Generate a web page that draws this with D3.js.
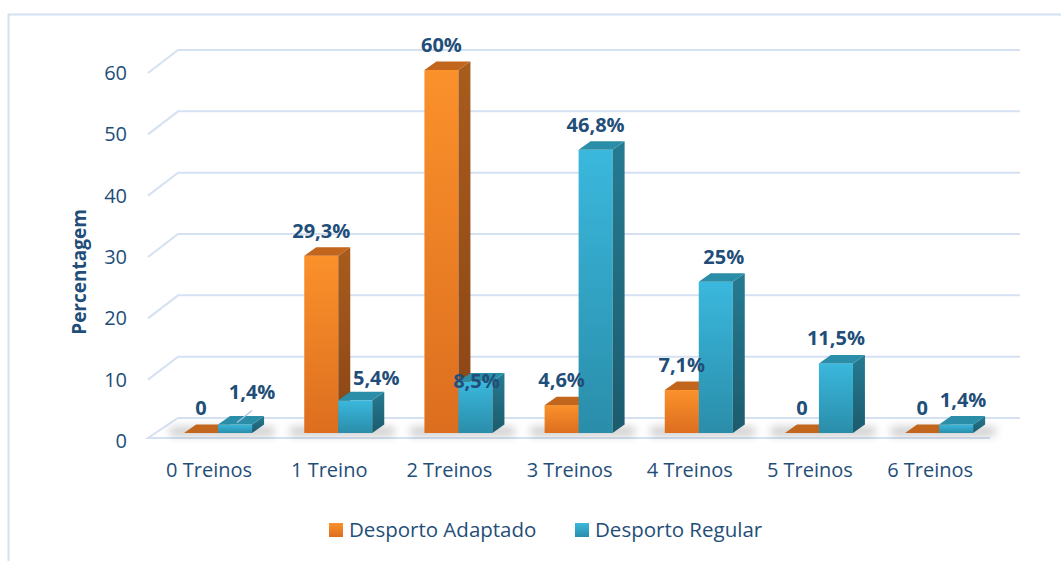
<!DOCTYPE html>
<html>
<head>
<meta charset="utf-8">
<title>Treinos</title>
<style>
  body { margin: 0; background: #fff; }
  svg { display: block; }
  text { font-family: "Open Sans", sans-serif; fill: #1f4e79; }
</style>
</head>
<body>
<script src="https://cdn.jsdelivr.net/npm/d3@7"></script>
<script>
// data
var categories = ["0 Treinos", "1 Treino", "2 Treinos", "3 Treinos", "4 Treinos", "5 Treinos", "6 Treinos"];
var seriesNames = ["Desporto Adaptado", "Desporto Regular"];
var adaptado = [0, 29.3, 60, 4.6, 7.1, 0, 0];
var regular = [1.4, 5.4, 8.5, 46.8, 25, 11.5, 1.4];
var yTicks = [0, 10, 20, 30, 40, 50, 60];

var width = 1061, height = 561;
var svg = d3.select('body').append('svg')
    .attr('width', width)
    .attr('height', height);

var defs = svg.append('defs');

function grad(id, top, bottom) {
    var g = defs.append('linearGradient').attr('id', id)
        .attr('x1', 0).attr('y1', 0).attr('x2', 0).attr('y2', 1);
    g.append('stop').attr('offset', '0%').attr('stop-color', top);
    g.append('stop').attr('offset', '100%').attr('stop-color', bottom);
}
grad('orFront', '#fb912b', '#dc6e1f');
grad('orSide', '#a85c1d', '#8a4515');
grad('cyFront', '#3ab8dd', '#2a8daa');
grad('cySide', '#257b92', '#1c5b6d');

defs.append('filter').attr('id', 'blur')
    .attr('x', '-50%').attr('y', '-200%').attr('width', '200%').attr('height', '500%')
    .append('feGaussianBlur').attr('stdDeviation', 4);

var colors = [
    { front: 'url(#orFront)', side: 'url(#orSide)', top: '#c2661d' },
    { front: 'url(#cyFront)', side: 'url(#cySide)', top: '#2b8ea8' }
];

// outer chart border
svg.append('path')
    .attr('d', 'M8.5,600 V14.5 H1100')
    .attr('fill', 'none')
    .attr('stroke', '#d3e0f0')
    .attr('stroke-width', 2);

// scales
var x = d3.scaleBand().domain(categories).range([158, 158 + 7 * 120.17]);
var yWall = d3.scaleLinear().domain([0, 60]).range([418, 50]);
var yBar = d3.scaleLinear().domain([0, 60]).range([433, 70]);

var depthX = 30, depthY = 23;   // wall depth
var bx = 12, by = 8.5;          // bar depth
var barW = 34;

// gridlines on back wall with left stubs
var grid = svg.append('g');
yTicks.forEach(function(t) {
    if (t === 0) return;
    grid.append('path')
        .attr('d', 'M148,' + (yWall(t) + depthY) + ' L178,' + yWall(t) + ' H1020')
        .attr('fill', 'none')
        .attr('stroke', '#d5e1f2')
        .attr('stroke-width', 2);
});

// floor
svg.append('path')
    .attr('d', 'M990,' + (yWall(0) + 20) + ' H148 L178,' + yWall(0) + ' H1020')
    .attr('fill', 'none')
    .attr('stroke', '#d5e1f2')
    .attr('stroke-width', 2);

// y tick labels
svg.append('g').selectAll('text').data(yTicks).enter().append('text')
    .attr('x', 127)
    .attr('y', function(d) { return yWall(d) + depthY; })
    .attr('dy', '0.35em')
    .attr('text-anchor', 'end')
    .style('font-size', '20px')
    .text(function(d) { return d; });

// axis title
svg.append('text')
    .attr('transform', 'translate(86,272) rotate(-90)')
    .attr('text-anchor', 'middle')
    .style('font-size', '19px')
    .style('font-weight', 'bold')
    .text('Percentagem');

// x labels
svg.append('g').selectAll('text').data(categories).enter().append('text')
    .attr('x', function(d) { return x(d) + x.bandwidth() / 2 - 9; })
    .attr('y', 477)
    .attr('text-anchor', 'middle')
    .style('font-size', '20px')
    .text(function(d) { return d; });

// shadows
svg.append('g').selectAll('rect').data(categories).enter().append('rect')
    .attr('x', function(d) { return x(d) + x.bandwidth() / 2 - barW - 14; })
    .attr('y', 427)
    .attr('width', barW * 2 + 36)
    .attr('height', 9)
    .attr('fill', '#555')
    .attr('opacity', 0.3)
    .attr('filter', 'url(#blur)');

// bars
var bars = svg.append('g');
var labels = [];
categories.forEach(function(c, i) {
    [adaptado[i], regular[i]].forEach(function(v, s) {
        var x0 = x(c) + x.bandwidth() / 2 - barW + s * barW;
        var yT = yBar(v), yB = yBar(0);
        var col = colors[s];
        if (v > 0) {
            bars.append('rect')
                .attr('x', x0).attr('y', yT)
                .attr('width', barW).attr('height', yB - yT)
                .attr('fill', col.front);
            bars.append('path')
                .attr('d', 'M' + (x0 + barW) + ',' + yT + ' l' + bx + ',' + (-by) +
                    ' V' + (yB - by) + ' l' + (-bx) + ',' + by + 'Z')
                .attr('fill', col.side);
        }
        bars.append('path')
            .attr('d', 'M' + x0 + ',' + yT + ' l' + bx + ',' + (-by) +
                ' h' + barW + ' l' + (-bx) + ',' + by + 'Z')
            .attr('fill', col.top);
        labels.push({ s: s, i: i, v: v, cx: x0 + barW / 2, top: yT });
    });
});

// label nudges where the original chart moved labels
var nudge = { '1-0': [17, -8], '1-1': [21, 3], '1-2': [1, 24], '1-4': [8, 0], '1-6': [7, 0] };

function fmt(v) {
    return v === 0 ? '0' : String(v).replace('.', ',') + '%';
}

var lab = svg.append('g');
labels.forEach(function(d) {
    var n = nudge[d.s + '-' + d.i] || [0, 0];
    var lx = d.cx + n[0], ly = d.top - 18 + n[1];
    if (d.s === 1 && d.i === 0) {
        lab.append('line')
            .attr('x1', d.cx + 2).attr('y1', d.top - 2)
            .attr('x2', lx).attr('y2', ly + 12)
            .attr('stroke', '#a9c4e3').attr('stroke-width', 1.2);
    }
    lab.append('text')
        .attr('x', lx)
        .attr('y', ly)
        .attr('text-anchor', 'middle')
        .style('font-size', '20px')
        .style('font-weight', 'bold')
        .text(fmt(d.v));
});

// legend
var legend = svg.append('g');
var legX = [329, 575];
seriesNames.forEach(function(name, s) {
    legend.append('rect')
        .attr('x', legX[s]).attr('y', 523)
        .attr('width', 14).attr('height', 14)
        .attr('fill', colors[s].front);
    legend.append('text')
        .attr('x', legX[s] + 20).attr('y', 537)
        .style('font-size', '20.5px')
        .text(name);
});
</script>
</body>
</html>
